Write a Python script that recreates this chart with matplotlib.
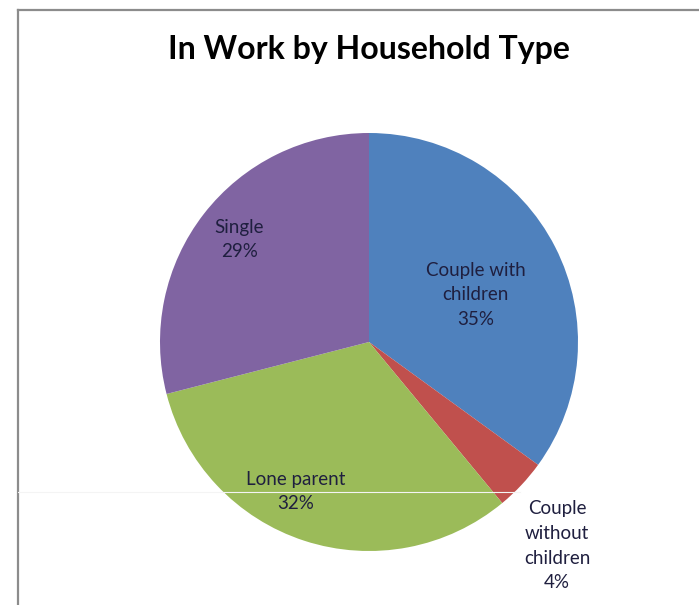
import matplotlib
matplotlib.use("Agg")
import matplotlib.pyplot as plt
from matplotlib.lines import Line2D

title = "In Work by Household Type"
categories = ["Couple with\nchildren", "Couple\nwithout\nchildren", "Lone parent", "Single"]
shares = [35, 4, 32, 29]
colors = ["#4F81BD", "#C0504D", "#9BBB59", "#8064A2"]

# label anchor points (axes data coords, pie radius = 1)
label_pos = [(0.51, 0.225), (0.90, -0.975), (-0.35, -0.715), (-0.62, 0.49)]

W, H = 699, 605
fig = plt.figure(figsize=(W / 100, H / 100), dpi=100)
fig.patch.set_facecolor("white")

cx, cy, r = 369, 342, 209
ax = fig.add_axes([(cx - r) / W, (H - cy - r) / H, 2 * r / W, 2 * r / H])
ax.pie(shares, colors=colors, startangle=90, counterclock=False,
       wedgeprops=dict(linewidth=0))
ax.set_xlim(-1, 1)
ax.set_ylim(-1, 1)
ax.set_aspect("equal")
ax.axis("off")

for name, val, (x, y) in zip(categories, shares, label_pos):
    ax.text(x, y, f"{name}\n{val}%", ha="center", va="center",
            fontsize=13.5, family="Lato", color="#1F1F3F",
            linespacing=1.55, clip_on=False)

fig.text(cx / W, 1 - 50 / H, title, ha="center", va="center",
         fontsize=23, fontweight="bold", family="Lato", color="black")

# chart frame (top and left edges)
fig.add_artist(Line2D([18 / W, 1], [1 - 10 / H, 1 - 10 / H], color="#8C8C8C", lw=1.6,
                      transform=fig.transFigure))
fig.add_artist(Line2D([18 / W, 18 / W], [0, 1 - 10 / H], color="#8C8C8C", lw=1.6,
                      transform=fig.transFigure))
# thin light streak across the lower part
fig.add_artist(Line2D([18 / W, 520 / W], [1 - 492 / H, 1 - 492 / H], color="#F4F4F4", lw=0.8,
                      transform=fig.transFigure))

fig.savefig("out.png", dpi=100)
